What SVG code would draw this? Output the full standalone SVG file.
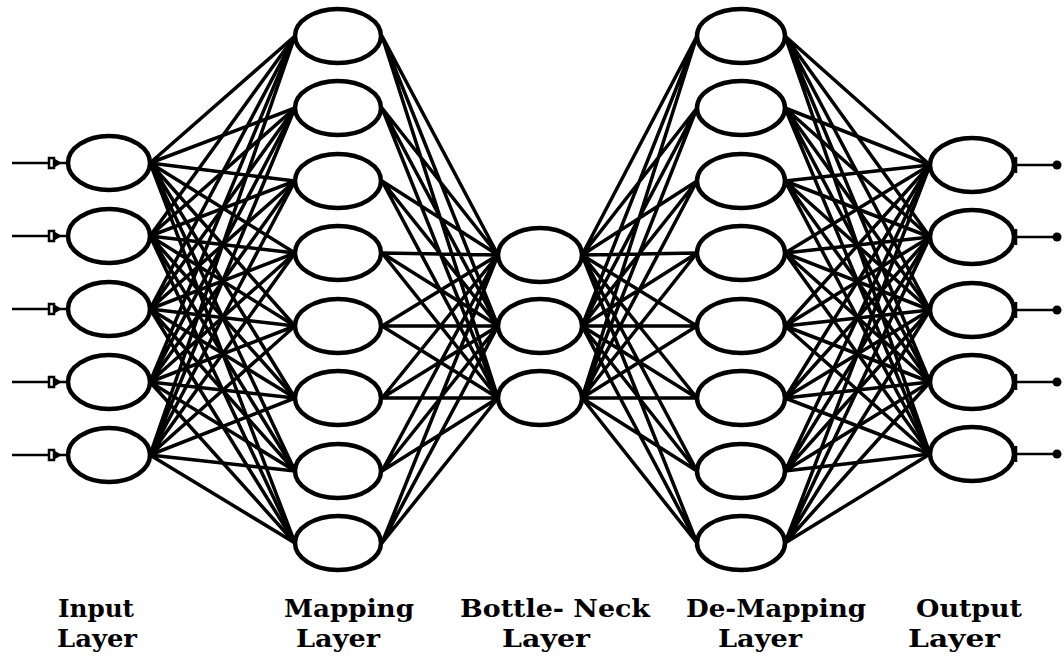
<svg xmlns="http://www.w3.org/2000/svg" width="1064" height="660" viewBox="0 0 1064 660">
<style>
.node{fill:#fff;stroke:#000;stroke-width:4.5}
.edge{fill:none;stroke:#000;stroke-width:3.5}
.io{fill:none;stroke:#000;stroke-width:2.5}
.lbl{font-family:"DejaVu Serif","Liberation Serif",serif;font-weight:bold;font-size:24px;fill:#000}
</style>
<rect width="1064" height="660" fill="#fff"/>
<g id="connectors">
<path class="edge" d="M150 163L295 36M150 163L295 108M150 163L295 181M150 163L295 253M150 163L295 326M150 163L295 398M150 163L295 471M150 163L295 543"/>
<path class="edge" d="M150 236L295 36M150 236L295 108M150 236L295 181M150 236L295 253M150 236L295 326M150 236L295 398M150 236L295 471M150 236L295 543"/>
<path class="edge" d="M150 309L295 36M150 309L295 108M150 309L295 181M150 309L295 253M150 309L295 326M150 309L295 398M150 309L295 471M150 309L295 543"/>
<path class="edge" d="M150 382L295 36M150 382L295 108M150 382L295 181M150 382L295 253M150 382L295 326M150 382L295 398M150 382L295 471M150 382L295 543"/>
<path class="edge" d="M150 455L295 36M150 455L295 108M150 455L295 181M150 455L295 253M150 455L295 326M150 455L295 398M150 455L295 471M150 455L295 543"/>
<path class="edge" d="M382 36L498 255M382 36L498 326M382 36L498 398M382 108L498 255M382 108L498 326M382 108L498 398M382 181L498 255M382 181L498 326M382 181L498 398M382 253L498 255M382 253L498 326M382 253L498 398M382 326L498 255M382 326L498 326M382 326L498 398M382 398L498 255M382 398L498 326M382 398L498 398M382 471L498 255M382 471L498 326M382 471L498 398M382 543L498 255M382 543L498 326M382 543L498 398"/>
<path class="edge" d="M582 255L697 36M582 255L697 108M582 255L697 181M582 255L697 253M582 255L697 326M582 255L697 398M582 255L697 471M582 255L697 543M582 326L697 36M582 326L697 108M582 326L697 181M582 326L697 253M582 326L697 326M582 326L697 398M582 326L697 471M582 326L697 543M582 398L697 36M582 398L697 108M582 398L697 181M582 398L697 253M582 398L697 326M582 398L697 398M582 398L697 471M582 398L697 543"/>
<path class="edge" d="M785 36L930 165M785 36L930 237M785 36L930 310M785 36L930 382M785 36L930 454"/>
<path class="edge" d="M785 108L930 165M785 108L930 237M785 108L930 310M785 108L930 382M785 108L930 454"/>
<path class="edge" d="M785 181L930 165M785 181L930 237M785 181L930 310M785 181L930 382M785 181L930 454"/>
<path class="edge" d="M785 253L930 165M785 253L930 237M785 253L930 310M785 253L930 382M785 253L930 454"/>
<path class="edge" d="M785 326L930 165M785 326L930 237M785 326L930 310M785 326L930 382M785 326L930 454"/>
<path class="edge" d="M785 398L930 165M785 398L930 237M785 398L930 310M785 398L930 382M785 398L930 454"/>
<path class="edge" d="M785 471L930 165M785 471L930 237M785 471L930 310M785 471L930 382M785 471L930 454"/>
<path class="edge" d="M785 543L930 165M785 543L930 237M785 543L930 310M785 543L930 382M785 543L930 454"/>
</g>
<defs>
<g id="inArrow">
<path class="io" d="M12 0H48M55 0H67"/>
<rect x="49" y="-5" width="5" height="10" fill="#fff" stroke="#000" stroke-width="2.5"/>
<path d="M55 -4L62 0L55 4Z" fill="#000"/>
</g>
<g id="outArrow">
<path class="io" d="M1016 -8V8M1016 0H1054"/>
<circle cx="1057" cy="0" r="4.5" fill="#000"/>
</g>
</defs>
<g id="input-layer">
<g id="in1"><use href="#inArrow" y="163"/><ellipse class="node" cx="109" cy="163" rx="41" ry="27"/></g>
<g id="in2"><use href="#inArrow" y="236"/><ellipse class="node" cx="109" cy="236" rx="41" ry="27"/></g>
<g id="in3"><use href="#inArrow" y="309"/><ellipse class="node" cx="109" cy="309" rx="41" ry="27"/></g>
<g id="in4"><use href="#inArrow" y="382"/><ellipse class="node" cx="109" cy="382" rx="41" ry="27"/></g>
<g id="in5"><use href="#inArrow" y="455"/><ellipse class="node" cx="109" cy="455" rx="41" ry="27"/></g>
</g>
<g id="mapping-layer">
<g id="map1"><ellipse class="node" cx="338" cy="36" rx="43" ry="27"/></g>
<g id="map2"><ellipse class="node" cx="338" cy="108" rx="43" ry="27"/></g>
<g id="map3"><ellipse class="node" cx="338" cy="181" rx="43" ry="27"/></g>
<g id="map4"><ellipse class="node" cx="338" cy="253" rx="43" ry="27"/></g>
<g id="map5"><ellipse class="node" cx="338" cy="326" rx="43" ry="27"/></g>
<g id="map6"><ellipse class="node" cx="338" cy="398" rx="43" ry="27"/></g>
<g id="map7"><ellipse class="node" cx="338" cy="471" rx="43" ry="27"/></g>
<g id="map8"><ellipse class="node" cx="338" cy="543" rx="43" ry="27"/></g>
</g>
<g id="bottleneck-layer">
<g id="bn1"><ellipse class="node" cx="540" cy="255" rx="42" ry="27"/></g>
<g id="bn2"><ellipse class="node" cx="540" cy="326" rx="42" ry="27"/></g>
<g id="bn3"><ellipse class="node" cx="540" cy="398" rx="42" ry="27"/></g>
</g>
<g id="demapping-layer">
<g id="dm1"><ellipse class="node" cx="741" cy="36" rx="44" ry="27"/></g>
<g id="dm2"><ellipse class="node" cx="741" cy="108" rx="44" ry="27"/></g>
<g id="dm3"><ellipse class="node" cx="741" cy="181" rx="44" ry="27"/></g>
<g id="dm4"><ellipse class="node" cx="741" cy="253" rx="44" ry="27"/></g>
<g id="dm5"><ellipse class="node" cx="741" cy="326" rx="44" ry="27"/></g>
<g id="dm6"><ellipse class="node" cx="741" cy="398" rx="44" ry="27"/></g>
<g id="dm7"><ellipse class="node" cx="741" cy="471" rx="44" ry="27"/></g>
<g id="dm8"><ellipse class="node" cx="741" cy="543" rx="44" ry="27"/></g>
</g>
<g id="output-layer">
<g id="out1"><use href="#outArrow" y="165"/><ellipse class="node" cx="972" cy="165" rx="42" ry="27"/></g>
<g id="out2"><use href="#outArrow" y="237"/><ellipse class="node" cx="972" cy="237" rx="42" ry="27"/></g>
<g id="out3"><use href="#outArrow" y="310"/><ellipse class="node" cx="972" cy="310" rx="42" ry="27"/></g>
<g id="out4"><use href="#outArrow" y="382"/><ellipse class="node" cx="972" cy="382" rx="42" ry="27"/></g>
<g id="out5"><use href="#outArrow" y="454"/><ellipse class="node" cx="972" cy="454" rx="42" ry="27"/></g>
</g>
<g id="labels">
<text class="lbl" x="58" y="617" textLength="76" lengthAdjust="spacingAndGlyphs">Input</text>
<text class="lbl" x="57" y="647" textLength="80" lengthAdjust="spacingAndGlyphs">Layer</text>
<text class="lbl" x="284" y="617" textLength="130" lengthAdjust="spacingAndGlyphs">Mapping</text>
<text class="lbl" x="296" y="647" textLength="84" lengthAdjust="spacingAndGlyphs">Layer</text>
<text class="lbl" x="460" y="617" textLength="190" lengthAdjust="spacingAndGlyphs">Bottle- Neck</text>
<text class="lbl" x="502" y="647" textLength="88" lengthAdjust="spacingAndGlyphs">Layer</text>
<text class="lbl" x="686" y="617" textLength="180" lengthAdjust="spacingAndGlyphs">De-Mapping</text>
<text class="lbl" x="718" y="647" textLength="84" lengthAdjust="spacingAndGlyphs">Layer</text>
<text class="lbl" x="916" y="617" textLength="106" lengthAdjust="spacingAndGlyphs">Output</text>
<text class="lbl" x="908" y="647" textLength="92" lengthAdjust="spacingAndGlyphs">Layer</text>
</g>
</svg>
